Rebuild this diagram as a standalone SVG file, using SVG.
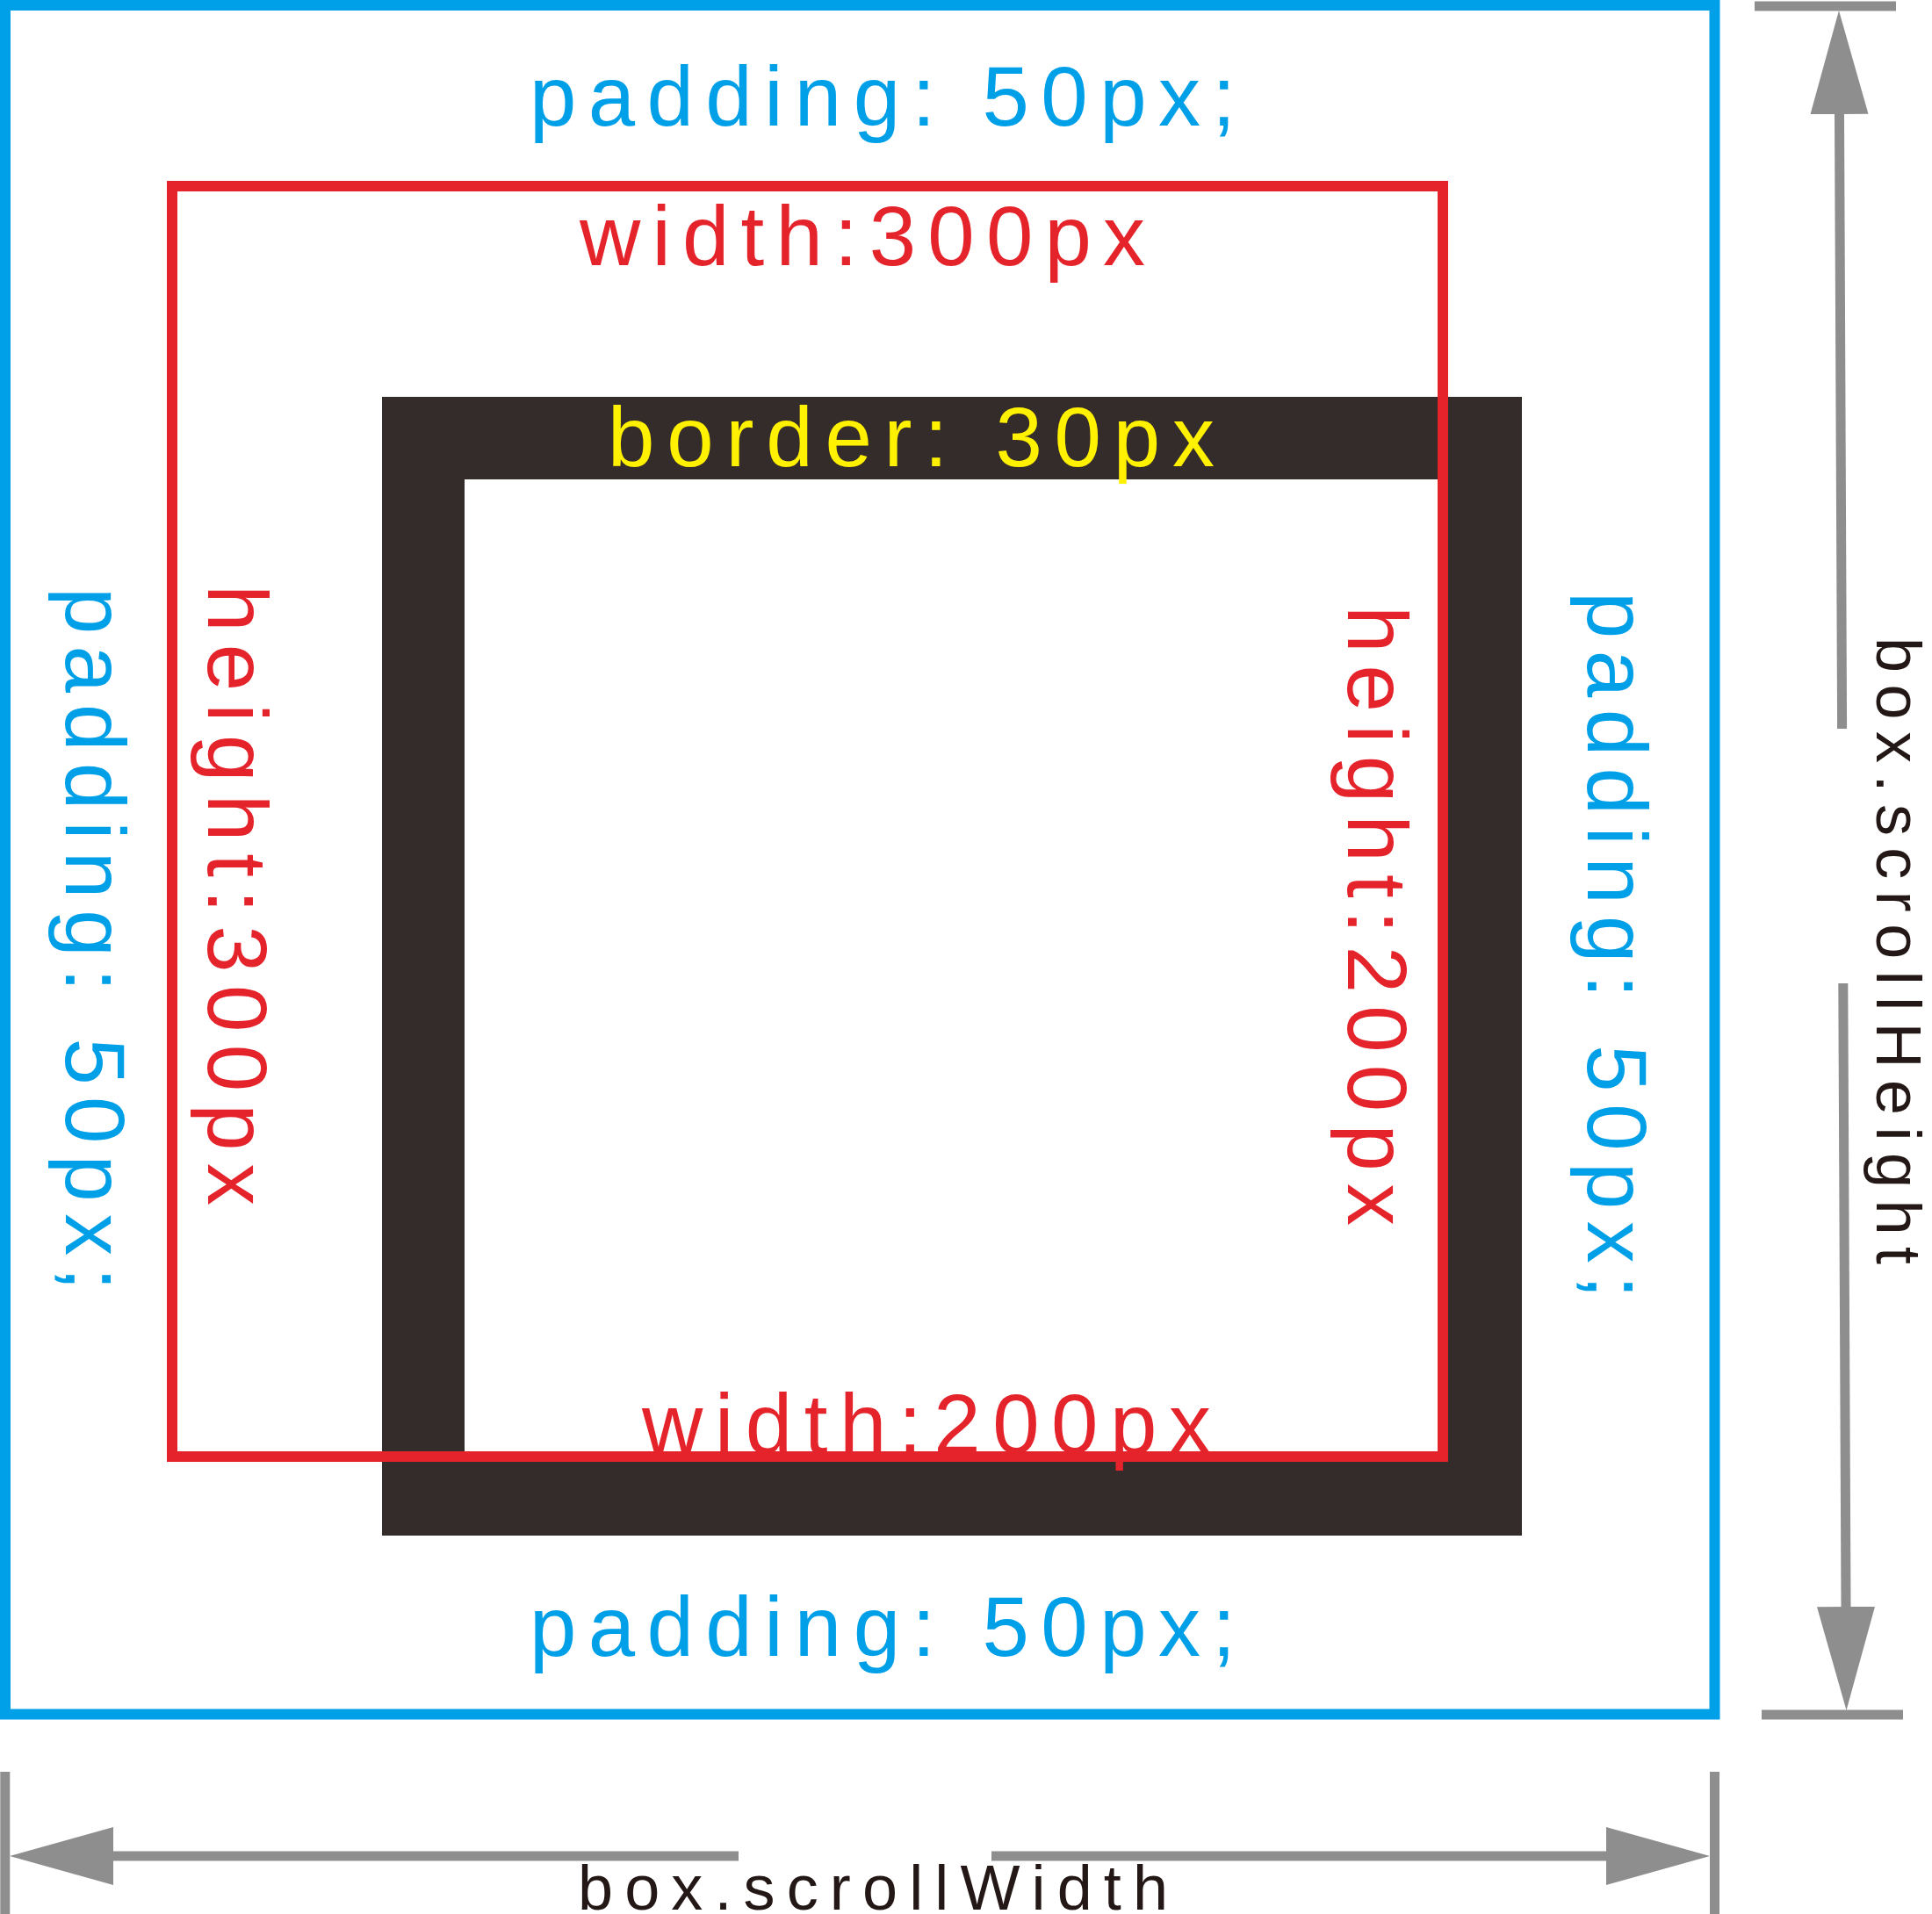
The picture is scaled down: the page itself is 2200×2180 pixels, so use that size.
<svg xmlns="http://www.w3.org/2000/svg" width="2200" height="2180" viewBox="0 0 2200 2180">
  <style>
    .lbl { font-family: "Liberation Sans Narrow", "Liberation Sans", Arial, sans-serif; font-size: 96px; }
    .sm { font-size: 72px; }
    .blue { fill: #00a0e9; }
    .red { fill: #e5232b; }
    .yel { fill: #fff100; }
    .dark { fill: #231815; }
    .dim { stroke: #8e8e8e; stroke-width: 11; fill: none; }
  </style>
  <defs>
    <marker id="ah" markerUnits="userSpaceOnUse" markerWidth="120" markerHeight="70" refX="0" refY="33" orient="auto" viewBox="0 0 120 66">
      <path d="M0,0 L118,33 L0,66 z" fill="#8e8e8e"/>
    </marker>
  </defs>
  <rect width="2200" height="2180" fill="#ffffff"/>

  <g id="padding-box">
    <rect x="6" y="6" width="1946.5" height="1946.5" fill="none" stroke="#00a0e9" stroke-width="12"/>
    <text class="lbl blue" x="603" y="143" textLength="804" lengthAdjust="spacing">padding: 50px;</text>
    <text class="lbl blue" x="603" y="1886" textLength="804" lengthAdjust="spacing">padding: 50px;</text>
    <text class="lbl blue" transform="translate(75,669) rotate(90)" textLength="801" lengthAdjust="spacing">padding: 50px;</text>
    <text class="lbl blue" transform="translate(1808,674) rotate(90)" textLength="805" lengthAdjust="spacing">padding: 50px;</text>
  </g>

  <g id="border-box">
    <rect x="482" y="499" width="1204" height="1203" fill="#ffffff" stroke="#342c2a" stroke-width="94"/>
    <text class="lbl yel" x="692" y="531" textLength="691" lengthAdjust="spacing">border: 30px</text>
  </g>

  <g id="content-box">
    <rect x="196" y="212" width="1447" height="1447" fill="none" stroke="#e5232b" stroke-width="12"/>
    <text class="lbl red" x="660" y="302" textLength="644" lengthAdjust="spacing">width:300px</text>
    <text class="lbl red" x="731" y="1655" textLength="648" lengthAdjust="spacing">width:200px</text>
    <text class="lbl red" transform="translate(237,666) rotate(90)" textLength="707" lengthAdjust="spacing">height:300px</text>
    <text class="lbl red" transform="translate(1535,690) rotate(90)" textLength="706" lengthAdjust="spacing">height:200px</text>
  </g>

  <g id="connectors">
    <line class="dim" x1="1998" y1="7" x2="2159" y2="7"/>
    <line class="dim" x1="2097.6" y1="830" x2="2094.5" y2="130" marker-end="url(#ah)"/>
    <line class="dim" x1="2098.8" y1="1120" x2="2102" y2="1830" marker-end="url(#ah)"/>
    <line class="dim" x1="2006" y1="1953" x2="2167" y2="1953"/>
    <line class="dim" x1="5.8" y1="2018" x2="5.8" y2="2180"/>
    <line class="dim" x1="1952.5" y1="2018" x2="1952.5" y2="2180"/>
    <line class="dim" x1="841" y1="2114" x2="129" y2="2114" marker-end="url(#ah)"/>
    <line class="dim" x1="1129" y1="2114" x2="1829" y2="2114" marker-end="url(#ah)"/>
  </g>

  <g id="scroll-labels">
    <text class="lbl sm dark" x="658" y="2175" textLength="672" lengthAdjust="spacing">box.scrollWidth</text>
    <text class="lbl sm dark" transform="translate(2137,726) rotate(90)" textLength="714" lengthAdjust="spacing">box.scrollHeight</text>
  </g>
</svg>
